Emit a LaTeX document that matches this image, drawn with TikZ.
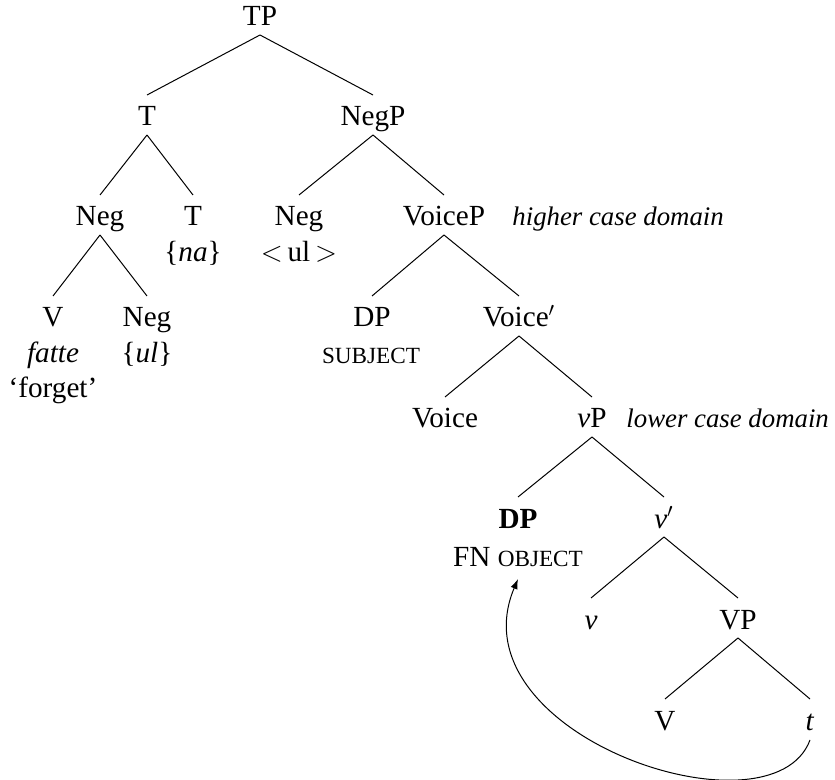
\documentclass[tikz,border=0pt]{standalone}
\usepackage{fontspec}
\setmainfont{Liberation Serif}
\usetikzlibrary{calc,arrows.meta}
\newcommand{\fakesc}[1]{{\fontsize{11.6}{12}\selectfont #1}}
\newcommand{\br}[2]{\draw[branch] ($(#1.base)+(0,9)$) -- ($(#2.base)+(0,-31)$);}
\begin{document}
\begin{tikzpicture}[x=0.5pt,y=-0.5pt,
  font=\fontsize{14.6}{18}\selectfont,
  lab/.style={anchor=base, inner sep=0pt},
  note/.style={anchor=base west, inner sep=0pt, font=\fontsize{13.4}{18}\selectfont\itshape},
  branch/.style={line width=0.5pt},
  move/.style={line width=0.5pt, -{Latex[length=5pt,width=3.6pt]}}]
\useasboundingbox (0,0) rectangle (835,780);
% level 0
\node[lab] (TP) at (260,26) {TP};
% level 1
\node[lab] (T) at (147,126) {T};
\node[lab] (NegP) at (373,126) {NegP};
% level 2
\node[lab] (Neg) at (100,226) {Neg};
\node[lab] (T2) at (193,226) {T};
\node[lab] (na) at (193,262) {\{\textit{na}\}};
\node[lab] (Neg2) at (299,226) {Neg};
\node[lab] (ulcopy) at (299,262) {$<$\,ul\,$>$};
\node[lab] (VoiceP) at (444,226) {VoiceP};
\node[note] (higher) at (512,226) {higher case domain};
% level 3
\node[lab] (V) at (53,327) {V};
\node[lab] (fatte) at (53,363) {\textit{fatte}};
\node[lab] (forget) at (53,398) {‘forget’};
\node[lab] (Neg3) at (147,327) {Neg};
\node[lab] (ul) at (147,363) {\{\textit{ul}\}};
\node[lab] (DPs) at (372,327) {DP};
\node[lab] (subj) at (371,364) {\fakesc{SUBJECT}};
\node[lab] (Voicebar) at (519,327) {Voice$'$};
% level 4
\node[lab] (Voice) at (445,428) {Voice};
\node[lab] (vP) at (592,428) {\textit{v}P};
\node[note] (lower) at (626,428) {lower case domain};
% level 5
\node[lab] (DPo) at (518,528) {\textbf{DP}};
\node[lab] (obj) at (518,566) {FN \fakesc{OBJECT}};
\node[lab] (vbar) at (664,528) {\textit{v}$'$};
% level 6
\node[lab] (v) at (591,629) {\textit{v}};
\node[lab] (VP) at (738,629) {VP};
% level 7
\node[lab] (V2) at (665,730) {V};
\node[lab] (t) at (810,730) {\textit{t}};
% branches
\br{TP}{T}
\br{TP}{NegP}
\br{T}{Neg}
\br{T}{T2}
\br{NegP}{Neg2}
\br{NegP}{VoiceP}
\br{Neg}{V}
\br{Neg}{Neg3}
\br{VoiceP}{DPs}
\br{VoiceP}{Voicebar}
\br{Voicebar}{Voice}
\br{Voicebar}{vP}
\br{vP}{DPo}
\br{vP}{vbar}
\br{vbar}{v}
\br{vbar}{VP}
\br{VP}{V2}
\br{VP}{t}
% movement arrow
\draw[move] ($(t.base)+(0,10)$) .. controls (772,842) and (452,735) .. ($(obj.base)+(0,13)$);
\end{tikzpicture}
\end{document}
